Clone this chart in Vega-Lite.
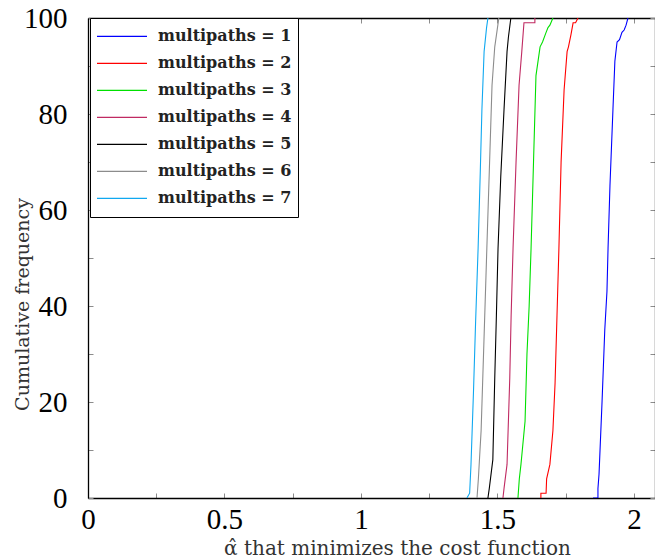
{
  "$schema": "https://vega.github.io/schema/vega-lite/v6.json",
  "width": 567,
  "height": 480,
  "autosize": "none",
  "padding": {"left": 88, "top": 18, "right": 0, "bottom": 61},
  "background": "white",
  "config": {
    "view": {"stroke": null},
    "axis": {
      "grid": false,
      "domainColor": "black",
      "domainWidth": 1.3,
      "tickColor": "#8c8c8c",
      "tickWidth": 1,
      "labelFont": "Liberation Serif",
      "labelFontSize": 29,
      "labelColor": "black",
      "titleFont": "DejaVu Serif",
      "titleFontWeight": "normal",
      "titleColor": "#333333"
    }
  },
  "data": {
    "values": [
      {"mp": "multipaths = 1", "o": 1, "x": 1.850, "y": 0},
      {"mp": "multipaths = 1", "o": 2, "x": 1.868, "y": 0},
      {"mp": "multipaths = 1", "o": 3, "x": 1.868, "y": 2},
      {"mp": "multipaths = 1", "o": 4, "x": 1.872, "y": 5},
      {"mp": "multipaths = 1", "o": 5, "x": 1.883, "y": 20},
      {"mp": "multipaths = 1", "o": 6, "x": 1.893, "y": 35},
      {"mp": "multipaths = 1", "o": 7, "x": 1.901, "y": 43},
      {"mp": "multipaths = 1", "o": 8, "x": 1.905, "y": 52},
      {"mp": "multipaths = 1", "o": 9, "x": 1.912, "y": 65},
      {"mp": "multipaths = 1", "o": 10, "x": 1.923, "y": 81},
      {"mp": "multipaths = 1", "o": 11, "x": 1.930, "y": 91},
      {"mp": "multipaths = 1", "o": 12, "x": 1.938, "y": 95},
      {"mp": "multipaths = 1", "o": 13, "x": 1.947, "y": 95.5},
      {"mp": "multipaths = 1", "o": 14, "x": 1.956, "y": 97},
      {"mp": "multipaths = 1", "o": 15, "x": 1.964, "y": 97.5},
      {"mp": "multipaths = 1", "o": 16, "x": 1.971, "y": 98.5},
      {"mp": "multipaths = 1", "o": 17, "x": 1.978, "y": 100},

      {"mp": "multipaths = 2", "o": 1, "x": 1.659, "y": 0},
      {"mp": "multipaths = 2", "o": 2, "x": 1.659, "y": 1},
      {"mp": "multipaths = 2", "o": 3, "x": 1.678, "y": 1},
      {"mp": "multipaths = 2", "o": 4, "x": 1.680, "y": 4},
      {"mp": "multipaths = 2", "o": 5, "x": 1.692, "y": 7},
      {"mp": "multipaths = 2", "o": 6, "x": 1.703, "y": 14},
      {"mp": "multipaths = 2", "o": 7, "x": 1.711, "y": 24},
      {"mp": "multipaths = 2", "o": 8, "x": 1.718, "y": 38},
      {"mp": "multipaths = 2", "o": 9, "x": 1.725, "y": 52},
      {"mp": "multipaths = 2", "o": 10, "x": 1.733, "y": 70},
      {"mp": "multipaths = 2", "o": 11, "x": 1.744, "y": 85},
      {"mp": "multipaths = 2", "o": 12, "x": 1.755, "y": 93},
      {"mp": "multipaths = 2", "o": 13, "x": 1.760, "y": 94},
      {"mp": "multipaths = 2", "o": 14, "x": 1.769, "y": 96.5},
      {"mp": "multipaths = 2", "o": 15, "x": 1.777, "y": 99},
      {"mp": "multipaths = 2", "o": 16, "x": 1.786, "y": 99},
      {"mp": "multipaths = 2", "o": 17, "x": 1.795, "y": 100},

      {"mp": "multipaths = 3", "o": 1, "x": 1.575, "y": 0},
      {"mp": "multipaths = 3", "o": 2, "x": 1.580, "y": 4},
      {"mp": "multipaths = 3", "o": 3, "x": 1.586, "y": 7},
      {"mp": "multipaths = 3", "o": 4, "x": 1.601, "y": 16},
      {"mp": "multipaths = 3", "o": 5, "x": 1.608, "y": 30},
      {"mp": "multipaths = 3", "o": 6, "x": 1.616, "y": 40},
      {"mp": "multipaths = 3", "o": 7, "x": 1.623, "y": 52},
      {"mp": "multipaths = 3", "o": 8, "x": 1.632, "y": 70},
      {"mp": "multipaths = 3", "o": 9, "x": 1.641, "y": 88},
      {"mp": "multipaths = 3", "o": 10, "x": 1.656, "y": 94},
      {"mp": "multipaths = 3", "o": 11, "x": 1.665, "y": 95},
      {"mp": "multipaths = 3", "o": 12, "x": 1.676, "y": 96.7},
      {"mp": "multipaths = 3", "o": 13, "x": 1.685, "y": 98},
      {"mp": "multipaths = 3", "o": 14, "x": 1.692, "y": 98.5},
      {"mp": "multipaths = 3", "o": 15, "x": 1.703, "y": 100},

      {"mp": "multipaths = 4", "o": 1, "x": 1.520, "y": 0},
      {"mp": "multipaths = 4", "o": 2, "x": 1.524, "y": 2},
      {"mp": "multipaths = 4", "o": 3, "x": 1.535, "y": 7},
      {"mp": "multipaths = 4", "o": 4, "x": 1.545, "y": 25},
      {"mp": "multipaths = 4", "o": 5, "x": 1.550, "y": 38},
      {"mp": "multipaths = 4", "o": 6, "x": 1.557, "y": 52},
      {"mp": "multipaths = 4", "o": 7, "x": 1.568, "y": 70},
      {"mp": "multipaths = 4", "o": 8, "x": 1.579, "y": 86},
      {"mp": "multipaths = 4", "o": 9, "x": 1.589, "y": 93},
      {"mp": "multipaths = 4", "o": 10, "x": 1.597, "y": 99},
      {"mp": "multipaths = 4", "o": 11, "x": 1.637, "y": 99},
      {"mp": "multipaths = 4", "o": 12, "x": 1.637, "y": 100},

      {"mp": "multipaths = 5", "o": 1, "x": 1.465, "y": 0},
      {"mp": "multipaths = 5", "o": 2, "x": 1.470, "y": 2},
      {"mp": "multipaths = 5", "o": 3, "x": 1.483, "y": 8},
      {"mp": "multipaths = 5", "o": 4, "x": 1.490, "y": 25},
      {"mp": "multipaths = 5", "o": 5, "x": 1.496, "y": 38},
      {"mp": "multipaths = 5", "o": 6, "x": 1.502, "y": 52},
      {"mp": "multipaths = 5", "o": 7, "x": 1.512, "y": 67},
      {"mp": "multipaths = 5", "o": 8, "x": 1.524, "y": 81},
      {"mp": "multipaths = 5", "o": 9, "x": 1.535, "y": 93},
      {"mp": "multipaths = 5", "o": 10, "x": 1.540, "y": 96},
      {"mp": "multipaths = 5", "o": 11, "x": 1.549, "y": 100},

      {"mp": "multipaths = 6", "o": 1, "x": 1.425, "y": 0},
      {"mp": "multipaths = 6", "o": 2, "x": 1.430, "y": 4},
      {"mp": "multipaths = 6", "o": 3, "x": 1.440, "y": 14},
      {"mp": "multipaths = 6", "o": 4, "x": 1.450, "y": 32},
      {"mp": "multipaths = 6", "o": 5, "x": 1.461, "y": 52},
      {"mp": "multipaths = 6", "o": 6, "x": 1.470, "y": 68},
      {"mp": "multipaths = 6", "o": 7, "x": 1.480, "y": 86},
      {"mp": "multipaths = 6", "o": 8, "x": 1.490, "y": 94},
      {"mp": "multipaths = 6", "o": 9, "x": 1.500, "y": 98},
      {"mp": "multipaths = 6", "o": 10, "x": 1.505, "y": 100},

      {"mp": "multipaths = 7", "o": 1, "x": 1.388, "y": 0},
      {"mp": "multipaths = 7", "o": 2, "x": 1.398, "y": 1},
      {"mp": "multipaths = 7", "o": 3, "x": 1.403, "y": 7},
      {"mp": "multipaths = 7", "o": 4, "x": 1.412, "y": 22},
      {"mp": "multipaths = 7", "o": 5, "x": 1.420, "y": 37},
      {"mp": "multipaths = 7", "o": 6, "x": 1.429, "y": 52},
      {"mp": "multipaths = 7", "o": 7, "x": 1.437, "y": 68},
      {"mp": "multipaths = 7", "o": 8, "x": 1.443, "y": 81},
      {"mp": "multipaths = 7", "o": 9, "x": 1.451, "y": 93},
      {"mp": "multipaths = 7", "o": 10, "x": 1.460, "y": 98},
      {"mp": "multipaths = 7", "o": 11, "x": 1.465, "y": 100}
    ]
  },
  "layer": [
    {
      "mark": {"type": "line", "strokeWidth": 1.1, "clip": true},
      "encoding": {
        "x": {
          "field": "x", "type": "quantitative",
          "scale": {"domain": [0, 2.077], "nice": false, "zero": false},
          "axis": {
            "orient": "bottom",
            "values": [0, 0.25, 0.5, 0.75, 1, 1.25, 1.5, 1.75, 2],
            "format": "~g",
            "labelExpr": "datum.value % 0.5 == 0 ? datum.label : ''",
            "tickSize": -5,
            "labelPadding": 12,
            "labelFlush": false,
            "title": "α̂ that minimizes the cost function",
            "titleFontSize": 20,
            "titleBaseline": "alphabetic",
            "titleX": 309,
            "titleY": 56
          }
        },
        "y": {
          "field": "y", "type": "quantitative",
          "scale": {"domain": [0, 100], "nice": false},
          "axis": {
            "orient": "left",
            "values": [0, 10, 20, 30, 40, 50, 60, 70, 80, 90, 100],
            "labelExpr": "datum.value % 20 == 0 ? datum.label : ''",
            "tickSize": -5,
            "labelPadding": 26,
            "labelFlush": false,
            "title": "Cumulative frequency",
            "titleFontSize": 19,
            "titleBaseline": "middle",
            "titleX": -66,
            "titleY": 286
          }
        },
        "color": {
          "field": "mp", "type": "nominal",
          "scale": {
            "domain": ["multipaths = 1", "multipaths = 2", "multipaths = 3", "multipaths = 4", "multipaths = 5", "multipaths = 6", "multipaths = 7"],
            "range": ["#0000ff", "#ff0000", "#00e000", "#c02a62", "#000000", "#8c8c8c", "#10a8f0"]
          },
          "legend": {
            "orient": "none",
            "legendX": 2,
            "legendY": 0,
            "title": null,
            "fillColor": "white",
            "strokeColor": "black",
            "padding": 6,
            "symbolType": "stroke",
            "symbolSize": 2500,
            "symbolStrokeWidth": 1.2,
            "clipHeight": 24.6,
            "labelFont": "DejaVu Serif",
            "labelFontWeight": "bold",
            "labelFontSize": 16,
            "labelColor": "#222222",
            "labelOffset": 10,
            "rowPadding": 2
          }
        },
        "order": {"field": "o", "type": "quantitative"}
      }
    },
    {
      "mark": {"type": "line", "opacity": 0},
      "encoding": {
        "x": {
          "field": "x", "type": "quantitative",
          "axis": {
            "orient": "top",
            "values": [0, 0.25, 0.5, 0.75, 1, 1.25, 1.5, 1.75, 2],
            "labels": false,
            "tickSize": -5,
            "title": null
          }
        },
        "y": {
          "field": "y", "type": "quantitative",
          "axis": {
            "orient": "right",
            "values": [0, 10, 20, 30, 40, 50, 60, 70, 80, 90, 100],
            "labels": false,
            "tickSize": -5,
            "title": null
          }
        },
        "detail": {"field": "mp"},
        "order": {"field": "o", "type": "quantitative"}
      }
    }
  ],
  "resolve": {"axis": {"x": "independent", "y": "independent"}}
}
